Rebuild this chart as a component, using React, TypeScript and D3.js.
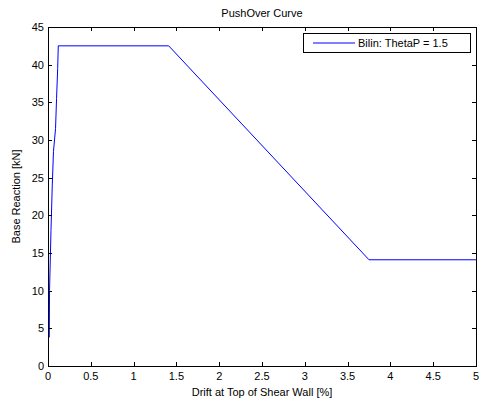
import * as d3 from "d3";
import React, { useEffect, useRef } from "react";

// pushover curve
const drift = [0.015, 0.018, 0.035, 0.05, 0.064, 0.088, 0.1, 0.113, 0.12, 1.41, 3.75, 5];
const baseReaction = [3.8, 10, 18, 24, 28.5, 31.5, 35.5, 39.5, 42.5, 42.5, 14.1, 14.1];
const xTicks = [0, 0.5, 1, 1.5, 2, 2.5, 3, 3.5, 4, 4.5, 5];
const yTicks = [0, 5, 10, 15, 20, 25, 30, 35, 40, 45];
const legendLabel = "Bilin: ThetaP = 1.5";

const App = () => {
  const ref = useRef<SVGSVGElement>(null);

  useEffect(() => {
    const width = 479;
    const height = 408;
    const left = 48;
    const right = 476;
    const top = 27;
    const bottom = 366;
    const font = "Liberation Sans, Arial, sans-serif";

    const svg = d3.select(ref.current).attr("width", width).attr("height", height);
    svg.selectAll("*").remove();

    const x = d3.scaleLinear().domain([0, 5]).range([left, right]);
    const y = d3.scaleLinear().domain([0, 45]).range([bottom, top]);

    svg.append("rect").attr("width", width).attr("height", height).attr("fill", "white");

    // curve
    const line = d3
      .line<number>()
      .x((d, i) => x(drift[i]))
      .y((d) => y(d));
    svg
      .append("path")
      .datum(baseReaction)
      .attr("d", line)
      .attr("fill", "none")
      .attr("stroke", "#0000ff")
      .attr("stroke-width", 1);

    // axes box
    svg
      .append("rect")
      .attr("x", left + 0.5)
      .attr("y", top + 0.5)
      .attr("width", right - left)
      .attr("height", bottom - top)
      .attr("fill", "none")
      .attr("stroke", "black")
      .attr("stroke-width", 1);

    const tickLen = 4;
    const tickColor = "black";

    // x ticks, bottom and top
    xTicks.forEach((t) => {
      const px = Math.round(x(t)) + 0.5;
      svg.append("line").attr("x1", px).attr("x2", px)
        .attr("y1", bottom).attr("y2", bottom - tickLen).attr("stroke", tickColor);
      svg.append("line").attr("x1", px).attr("x2", px)
        .attr("y1", top).attr("y2", top + tickLen).attr("stroke", tickColor);
      svg.append("text")
        .attr("x", x(t))
        .attr("y", bottom + 14)
        .attr("text-anchor", "middle")
        .style("font-family", font)
        .style("font-size", "11px")
        .text(String(t));
    });

    // y ticks, left and right
    yTicks.forEach((t) => {
      const py = Math.round(y(t)) + 0.5;
      svg.append("line").attr("x1", left).attr("x2", left + tickLen)
        .attr("y1", py).attr("y2", py).attr("stroke", tickColor);
      svg.append("line").attr("x1", right).attr("x2", right - tickLen)
        .attr("y1", py).attr("y2", py).attr("stroke", tickColor);
      svg.append("text")
        .attr("x", left - 4)
        .attr("y", y(t))
        .attr("dy", "0.35em")
        .attr("text-anchor", "end")
        .style("font-family", font)
        .style("font-size", "11px")
        .text(String(t));
    });

    // title and axis labels
    svg.append("text")
      .attr("x", (left + right) / 2)
      .attr("y", 17)
      .attr("text-anchor", "middle")
      .style("font-family", font)
      .style("font-size", "11px")
      .text("PushOver Curve");

    svg.append("text")
      .attr("x", (left + right) / 2)
      .attr("y", 396)
      .attr("text-anchor", "middle")
      .style("font-family", font)
      .style("font-size", "11px")
      .text("Drift at Top of Shear Wall [%]");

    svg.append("text")
      .attr("transform", `translate(20, ${(top + bottom) / 2}) rotate(-90)`)
      .attr("text-anchor", "middle")
      .style("font-family", font)
      .style("font-size", "11px")
      .text("Base Reaction [kN]");

    // legend
    const legend = svg.append("g").attr("transform", "translate(303, 33)");
    legend.append("rect")
      .attr("x", 0.5).attr("y", 0.5)
      .attr("width", 167).attr("height", 19)
      .attr("fill", "white").attr("stroke", "black");
    legend.append("line")
      .attr("x1", 10).attr("x2", 52)
      .attr("y1", 10).attr("y2", 10)
      .attr("stroke", "#0000ff");
    legend.append("text")
      .attr("x", 55)
      .attr("y", 10)
      .attr("dy", "0.35em")
      .style("font-family", font)
      .style("font-size", "11px")
      .text(legendLabel);
  }, []);

  return (
    <svg ref={ref} style={{ position: "absolute", left: 0, top: 0 }}></svg>
  );
};

export default App;
